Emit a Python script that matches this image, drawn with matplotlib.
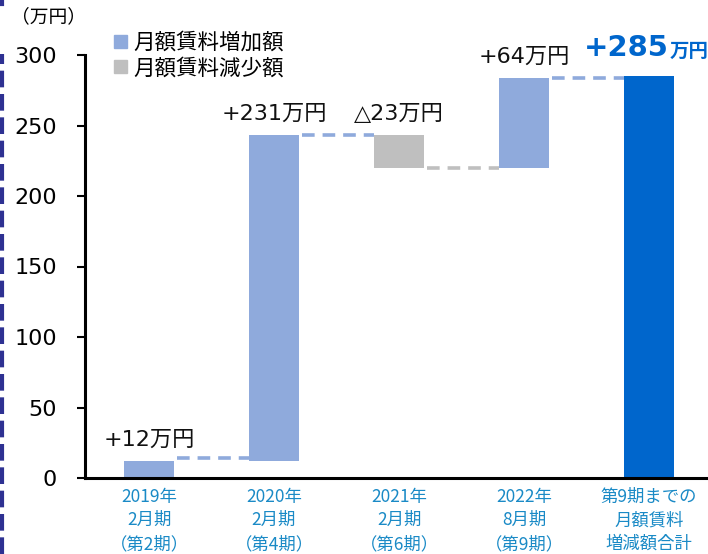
import matplotlib
matplotlib.use("Agg")
import matplotlib.pyplot as plt
from matplotlib.patches import Patch
from matplotlib.lines import Line2D

plt.rcParams['font.family'] = ['DejaVu Sans', 'Noto Sans CJK JP']

categories = ["2019年\n2月期\n（第2期）", "2020年\n2月期\n（第4期）", "2021年\n2月期\n（第6期）",
              "2022年\n8月期\n（第9期）", "第9期までの\n月額賃料\n増減額合計"]
changes = [12, 231, -23, 64]
total = 285
labels = ["+12万円", "+231万円", "△23万円", "+64万円"]
legend_labels = ["月額賃料増加額", "月額賃料減少額"]
yticks = [0, 50, 100, 150, 200, 250, 300]

c_up = "#8FAADC"
c_down = "#BFBFBF"
c_total = "#0066CC"
c_tick = "#1A8AC6"

fig = plt.figure(figsize=(7.08, 5.54), dpi=100)
ax = fig.add_axes([85/708, 76/554, 623/708, 423/554])

# waterfall
bottoms = []
level = 0
for v in changes:
    bottoms.append(level if v >= 0 else level + v)
    level += v
heights = [abs(v) for v in changes]
colors = [c_up if v >= 0 else c_down for v in changes]
x = list(range(len(categories)))
w = 0.4
ax.bar(x[:4], heights, bottom=bottoms, width=w, color=colors, zorder=3)
ax.bar([x[4]], [total], width=w, color=c_total, zorder=3)

# connectors
level = 0
levels = []
for v in changes:
    level += v
    levels.append(level)
for i, lv in enumerate(levels):
    ccol = c_down if changes[i] < 0 else c_up
    yy = lv + (2 if i == 0 else 0)
    ax.plot([x[i] + w/2 + 0.02, x[i+1] - w/2], [yy, yy],
            color=ccol, lw=2.6, dashes=(3.5, 2.2), zorder=2, solid_capstyle='butt')

# annotations
tops = [b + h for b, h in zip(bottoms, heights)]
tops[2] = levels[1]
for i, t in enumerate(labels):
    ax.annotate(t, (x[i], tops[i]), xytext=(0, 8), textcoords='offset points',
                ha='center', va='bottom', fontsize=16, color='#111111')
ax.annotate("+285", (4.16, total), xytext=(0, 10), textcoords='offset points',
            ha='right', va='bottom', fontsize=21, fontweight='bold', color=c_total)
ax.annotate("万円", (4.16, total), xytext=(0.5, 11), textcoords='offset points',
            ha='left', va='bottom', fontsize=14, fontweight='bold', color=c_total,
            annotation_clip=False)

ax.set_xlim(-0.512, 4.472)
ax.set_ylim(0, 300)
ax.set_yticks(yticks)
ax.set_yticklabels([str(v) for v in yticks], fontsize=16)
ax.set_xticks(x)
ax.set_xticklabels(categories, fontsize=12.5, color=c_tick, linespacing=1.4,
                   family=['Noto Sans CJK JP', 'DejaVu Sans'])
ax.tick_params(axis='y', length=6, width=1.5, pad=14)
ax.tick_params(axis='x', length=0, pad=7)
for s in ['top', 'right']:
    ax.spines[s].set_visible(False)
for s in ['left', 'bottom']:
    ax.spines[s].set_linewidth(2.2)
ax.spines['bottom'].set_zorder(4)

handles = [Patch(color=c_up), Patch(color=c_down)]
leg = fig.legend(handles, legend_labels, loc='upper left', bbox_to_anchor=(114/708, 1 - 32/554),
                 frameon=False, handlelength=0.6, handleheight=0.6,
                 handletextpad=0.3, labelspacing=0.15, borderpad=0, borderaxespad=0,
                 prop={'family': ['Noto Sans CJK JP', 'DejaVu Sans'], 'size': 15.5})

fig.text(11/708, 1 - 6/554, "（万円）", ha='left', va='top', fontsize=13.5,
         family=['Noto Sans CJK JP', 'DejaVu Sans'])

# left dashed border
fig.add_artist(Line2D([2/708, 2/708], [0, 1 - 54/554], transform=fig.transFigure,
                      color="#2E3192", lw=3, dashes=(4, 1.6)))
fig.add_artist(Line2D([2/708, 2/708], [1 - 4/554, 1], transform=fig.transFigure,
                      color="#2E3192", lw=3))

fig.savefig("out.png", dpi=100)
